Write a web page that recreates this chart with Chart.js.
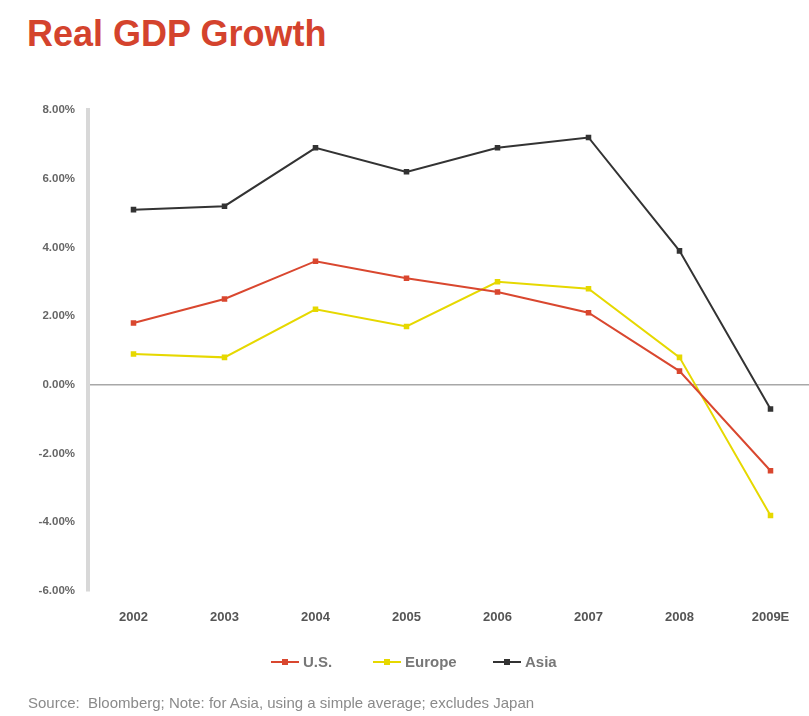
<!DOCTYPE html>
<html>
<head>
<meta charset="utf-8">
<script src="https://cdn.jsdelivr.net/npm/chart.js@4/dist/chart.umd.min.js"></script>
<style>
  body { margin: 0; background: #fff; width: 809px; height: 716px; overflow: hidden; position: relative; font-family: "Liberation Sans", Arial, sans-serif; }
  #title { position: absolute; left: 27px; top: 13px; font-size: 36px; color: #d4432d; font-weight: bold; }
  #source { position: absolute; left: 28px; top: 694px; font-size: 15px; color: #8a8a8a; white-space: nowrap; }
  #wrap { position: absolute; left: 0; top: 0; width: 822px; height: 716px; }
</style>
</head>
<body>
<div id="title">Real GDP Growth</div>
<div id="wrap"><canvas id="gdpChart"></canvas></div>
<div id="source">Source:&nbsp; Bloomberg; Note: for Asia, using a simple average; excludes Japan</div>
<script>
var years = ["2002", "2003", "2004", "2005", "2006", "2007", "2008", "2009E"];
var usData = [1.8, 2.5, 3.6, 3.1, 2.7, 2.1, 0.4, -2.5];
var europeData = [0.9, 0.8, 2.2, 1.7, 3.0, 2.8, 0.8, -3.8];
var asiaData = [5.1, 5.2, 6.9, 6.2, 6.9, 7.2, 3.9, -0.7];

var usColor = "#d9472f";
var europeColor = "#e6d800";
var asiaColor = "#333333";

// legend under the plot: short line with a marker in the middle
var bottomLegend = {
	id: 'bottomLegend',
	afterDraw: function(chart){
		var ctx = chart.ctx;
		var items = [
			{label: "U.S.", color: usColor, x: 271},
			{label: "Europe", color: europeColor, x: 373},
			{label: "Asia", color: asiaColor, x: 493}
		];
		var y = 662;
		ctx.save();
		ctx.font = "bold 15px 'Liberation Sans', Arial, sans-serif";
		ctx.textBaseline = "middle";
		for (var i = 0; i < items.length; i++){
			var it = items[i];
			ctx.strokeStyle = it.color;
			ctx.lineWidth = 2;
			ctx.beginPath();
			ctx.moveTo(it.x, y);
			ctx.lineTo(it.x + 28, y);
			ctx.stroke();
			ctx.fillStyle = it.color;
			ctx.fillRect(it.x + 11, y - 3, 6, 6);
			ctx.fillStyle = "#777";
			ctx.fillText(it.label, it.x + 32, y + 1);
		}
		ctx.restore();
	}
};

var gdpChart = new Chart(document.getElementById('gdpChart'), {
	type: 'line',
	data: {
		labels: years,
		datasets: [
			{ label: "U.S.", data: usData, borderColor: usColor, backgroundColor: usColor, borderWidth: 2, pointStyle: 'rect', pointRadius: 2.5, tension: 0, fill: false },
			{ label: "Europe", data: europeData, borderColor: europeColor, backgroundColor: europeColor, borderWidth: 2, pointStyle: 'rect', pointRadius: 2.5, tension: 0, fill: false },
			{ label: "Asia", data: asiaData, borderColor: asiaColor, backgroundColor: asiaColor, borderWidth: 2, pointStyle: 'rect', pointRadius: 2.5, tension: 0, fill: false }
		]
	},
	options: {
		responsive: true,
		maintainAspectRatio: false,
		animation: false,
		layout: { padding: { top: 110, bottom: 80, left: 0, right: 0 } },
		plugins: {
			legend: { display: false },
			tooltip: { enabled: false }
		},
		scales: {
			x: {
				offset: true,
				grid: { display: false, drawTicks: false },
				border: { display: false },
				ticks: { color: "#555", padding: 19, font: { size: 13, weight: 'bold', family: "'Liberation Sans', Arial, sans-serif" } },
				afterFit: function(scale){ scale.height = 45; }
			},
			y: {
				min: -6,
				max: 8,
				ticks: {
					stepSize: 2,
					color: "#666",
					padding: 13,
					font: { size: 11.5, weight: 'bold', family: "'Liberation Sans', Arial, sans-serif" },
					callback: function(v){ return v.toFixed(2) + "%"; }
				},
				grid: {
					drawTicks: false,
					color: function(c){ return c.tick && c.tick.value === 0 ? "#a8a8a8" : "rgba(0,0,0,0)"; },
					lineWidth: 1.5
				},
				border: { display: true, color: "#d8d8d8", width: 4 },
				afterFit: function(scale){ scale.width = 88; }
			}
		}
	},
	plugins: [bottomLegend]
});
</script>
</body>
</html>
